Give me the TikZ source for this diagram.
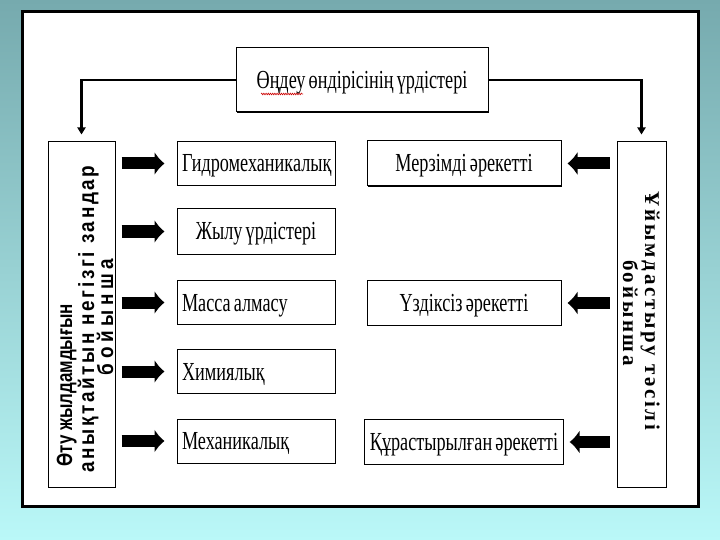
\documentclass[tikz,border=0pt]{standalone}
\usepackage{fontspec}
\setmainfont{Liberation Serif}
\newfontfamily\boxfont[FakeStretch=0.70,WordSpace=0.7]{Liberation Serif}
\newfontfamily\lfonta[FakeStretch=0.77]{Liberation Sans}
\newfontfamily\lfontb[FakeStretch=0.86,LetterSpace=12]{Liberation Sans}
\newfontfamily\lfontc[FakeStretch=0.86,LetterSpace=21]{Liberation Sans}
\newfontfamily\rfont[LetterSpace=13]{Liberation Serif}
\newcommand\lftxt[1]{\makebox[148pt][l]{#1}}
\usetikzlibrary{arrows.meta,shadows,decorations.pathmorphing}
\definecolor{bgtop}{RGB}{118,170,174}
\definecolor{bgbot}{RGB}{186,248,248}
\begin{document}
\begin{tikzpicture}[x=1pt,y=-1pt,
  panel/.style={draw=black,line width=3pt,fill=white,
    drop shadow={shadow xshift=1.2pt,shadow yshift=-1.2pt,fill=black,opacity=1}},
  box/.style={draw=black,line width=1pt,fill=white,inner xsep=5pt,inner ysep=0pt,
    text height=17pt,text depth=0pt,font=\boxfont\fontsize{26}{28}\selectfont,
    drop shadow={shadow xshift=0.9pt,shadow yshift=-0.9pt,fill=black,opacity=1}},
  lbox/.style={box,minimum width=158pt,minimum height=44pt},
  cbox/.style={box,minimum width=158pt,minimum height=46pt},
  rbox/.style={box,minimum width=194pt,minimum height=45pt},
  tall/.style={draw=black,line width=1pt,fill=white,minimum height=345pt,inner sep=0pt,
    drop shadow={shadow xshift=0.9pt,shadow yshift=-0.9pt,fill=black,opacity=1}},
  ltxt/.style={inner sep=0pt},
  rtxt/.style={font=\rfont\bfseries\fontsize{21}{23}\selectfont,inner sep=0pt},
  thin/.style={draw=black,line width=2.5pt,-{Triangle[length=7pt,width=8pt]},shorten >=7pt},
  block/.style={draw=black,line width=12pt,-{Latex[length=10pt,width=24pt]}},
]
\shade[top color=bgtop,bottom color=bgbot] (0,0) rectangle (720,540);
\node[panel,minimum width=676pt,minimum height=494pt,inner sep=0pt] (P) at (360,259) {};

\node[box,minimum width=252pt,minimum height=64pt] (T) at (362,80) {Өңдеу өндірісінің үрдістері};
\draw[red!80!black,line width=0.6pt,decorate,decoration={snake,amplitude=0.8pt,segment length=2.2pt}]
  (261,94) -- (303,94);

\node[tall,minimum width=67pt] (L) at (81.5,314.5) {};
\node[tall,minimum width=49pt] (R) at (641.5,314.5) {};

\node[ltxt,font=\lfonta\bfseries\fontsize{22}{24}\selectfont,rotate=90,anchor=base west] (L1) at (72,467) {Өту жылдамдығын};
\node[ltxt,font=\lfontb\bfseries\fontsize{22}{24}\selectfont,rotate=90,anchor=base west] (L2) at (94,473) {анықтайтын негізгі зандар};
\node[ltxt,font=\lfontc\bfseries\fontsize{22}{24}\selectfont,rotate=90,anchor=base] (L3) at (113,317) {бойынша};

\node[rtxt,rotate=-90,anchor=base] (R1) at (645,311) {Ұйымдастыру тәсілі};
\node[rtxt,rotate=-90,anchor=base] (R2) at (623,313) {бойынша};

\node[lbox] (b1) at (256,163.5) {\lftxt{Гидромеханикалық}};
\node[cbox] (b2) at (256,231.5) {Жылу үрдістері};
\node[lbox] (b3) at (256,302.5) {\lftxt{Масса алмасу}};
\node[lbox] (b4) at (256,371.5) {\lftxt{Химиялық}};
\node[lbox] (b5) at (256,441) {\lftxt{Механикалық}};

\node[rbox] (r1) at (464,163.5) {Мерзімді әрекетті};
\node[rbox] (r2) at (464,303) {Үздіксіз әрекетті};
\node[rbox] (r3) at (464,442) {Құрастырылған әрекетті};

\draw[thin] (T.west) -| (L.north);
\draw[thin] (T.east) -| (R.north);

\foreach \b in {b1,b2,b3,b4,b5}
  \draw[block,shorten <=6pt,shorten >=12pt] (L.east |- \b.west) -- (\b.west);
\foreach \r in {r1,r2,r3}
  \draw[block,shorten <=7pt,shorten >=6pt] (R.west |- \r.east) -- (\r.east);
\end{tikzpicture}
\end{document}
